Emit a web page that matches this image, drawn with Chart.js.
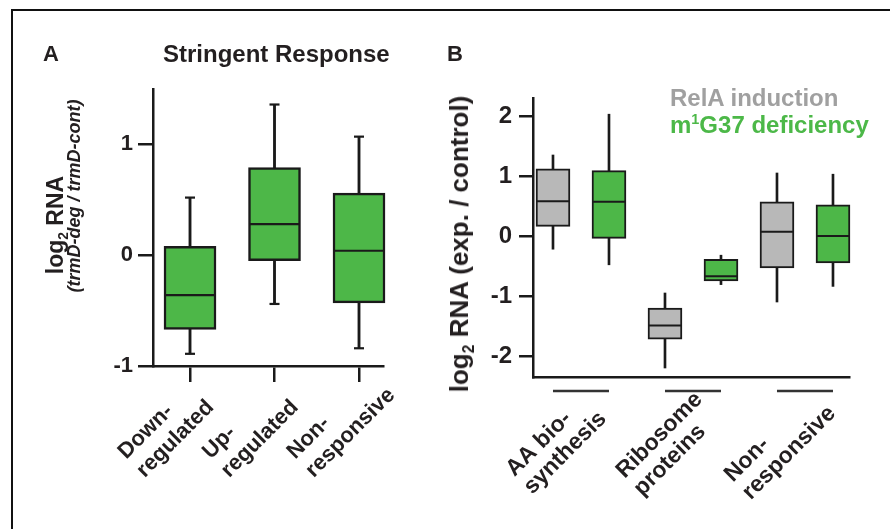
<!DOCTYPE html>
<html lang="en">
<head>
<meta charset="UTF-8" />
<title>Stringent response box plots</title>
<script src="https://cdn.jsdelivr.net/npm/chart.js"></script>
<style>
  body { margin: 0; background: #fff; }
  #page { position: relative; width: 890px; height: 529px; overflow: hidden;
          font-family: "Liberation Sans", Arial, Helvetica, sans-serif; font-weight: bold; color: #231f20; }
  .frame { position: absolute; left: 11px; top: 9px; right: -10px; bottom: -10px;
           border-top: 2px solid #111; border-left: 2px solid #111; }
  canvas { position: absolute; top: 0; }
  .txt { position: absolute; white-space: nowrap; line-height: 1; }
  .rot { position: absolute; white-space: nowrap; line-height: 1; transform: translate(-50%, -50%) rotate(-90deg); }
  sub, sup { font-size: 60%; line-height: 0; }
</style>
</head>
<body>
<div id="page">
  <div class="frame"></div>
  <canvas id="chartA" width="445" height="529" style="left:0"></canvas>
  <canvas id="chartB" width="445" height="529" style="left:445px"></canvas>

  <!-- panel A texts -->
  <div class="txt" style="left:43px;top:43px;font-size:22px">A</div>
  <div class="txt" style="left:163px;top:42px;font-size:24px">Stringent Response</div>
  <div class="rot" style="left:55px;top:225px;font-size:23px">log<sub>2</sub> RNA</div>
  <div class="rot" style="left:74px;top:196px;font-size:18px;font-style:italic">(trmD-deg / trmD-cont)</div>

  <!-- panel B texts -->
  <div class="txt" style="left:447px;top:43px;font-size:22px">B</div>
  <div class="rot" style="left:459px;top:244px;font-size:26px">log<sub>2</sub> RNA (exp. / control)</div>
  <div class="txt" style="left:670px;top:86px;font-size:24px;color:#a0a0a0">RelA induction</div>
  <div class="txt" style="left:670px;top:113px;font-size:24px;color:#4cb848">m<sup>1</sup>G37 deficiency</div>
</div>

<script>
// Panel A - stringent response (trmD-deg / trmD-cont)
const labelsA = [['Down-', 'regulated'], ['Up-', 'regulated'], ['Non-', 'responsive']];
const minA = [-0.89, -0.44, -0.84];
const q1A  = [-0.67, -0.05, -0.43];
const medA = [-0.36,  0.28,  0.04];
const q3A  = [ 0.08,  0.79,  0.56];
const maxA = [ 0.52,  1.36,  1.07];
const ticksA = [-1, 0, 1];

// Panel B - RelA induction vs m1G37 deficiency
const labelsB = [['AA bio-', 'synthesis'], ['Ribosome', 'proteins'], ['Non-', 'responsive']];
const seriesB = ['RelA induction', 'm1G37 deficiency'];
const relaMin = [-0.22, -2.20, -1.10];
const relaQ1  = [ 0.16, -1.72, -0.53];
const relaMed = [ 0.58, -1.49,  0.07];
const relaQ3  = [ 1.12, -1.20,  0.57];
const relaMax = [ 1.35, -0.95,  1.05];
const m1gMin  = [-0.48, -0.81, -0.84];
const m1gQ1   = [-0.04, -0.75, -0.45];
const m1gMed  = [ 0.57, -0.67,  0.00];
const m1gQ3   = [ 1.09, -0.39,  0.52];
const m1gMax  = [ 2.03, -0.32,  1.03];
const ticksB = [-2, -1, 0, 1, 2];

const INK = '#1a1a1a';
const TEXT = '#231f20';
const GREEN = '#4db748';
const GRAY = '#b8b8b8';
const FAMILY = '"Liberation Sans", Arial, Helvetica, sans-serif';

// a box plot = whisker bar + floating box bar + median (and caps) as line points
function boxSets(xs, lo, q1, med, q3, hi, fill, st) {
  const pts = vals => xs.map((x, i) => ({ x: x, y: vals[i] }));
  const sets = [
    { type: 'bar', data: xs.map((x, i) => ({ x: x, y: [lo[i], hi[i]] })), clip: false,
      backgroundColor: INK, borderWidth: 0, barThickness: st.whisker, grouped: false, order: 3 },
    { type: 'bar', data: xs.map((x, i) => ({ x: x, y: [q1[i], q3[i]] })), clip: false,
      backgroundColor: fill, borderColor: INK, borderWidth: st.border, borderSkipped: false,
      barThickness: st.box, grouped: false, order: 2 },
    { type: 'scatter', data: pts(med), clip: false, pointStyle: 'line', pointRadius: st.box / 2 - st.border / 2,
      pointBorderWidth: st.line, pointBorderColor: INK, order: 1 }
  ];
  if (st.cap) {
    sets.push({ type: 'scatter', data: pts(lo).concat(pts(hi)), clip: false, pointStyle: 'line', pointRadius: st.cap,
      pointBorderWidth: st.line, pointBorderColor: INK, order: 1 });
  }
  return sets;
}

// rotated category labels + optional group underlines
const catLabels = {
  id: 'catLabels',
  afterDraw(chart, args, o) {
    const ctx = chart.ctx;
    const xs = chart.scales.x;
    const y0 = chart.chartArea.bottom + o.dy;
    ctx.save();
    if (o.groups) {
      ctx.strokeStyle = '#333';
      ctx.lineWidth = 2.5;
      o.groups.forEach(g => {
        ctx.beginPath();
        ctx.moveTo(xs.getPixelForValue(g[0]), y0);
        ctx.lineTo(xs.getPixelForValue(g[1]), y0);
        ctx.stroke();
      });
    }
    ctx.font = 'bold ' + o.size + 'px ' + FAMILY;
    ctx.fillStyle = TEXT;
    ctx.textAlign = 'left';
    ctx.textBaseline = 'alphabetic';
    o.labels.forEach((lines, i) => {
      const w = Math.max(...lines.map(l => ctx.measureText(l).width));
      const start = o.align === 'center' ? o.along - w / 2 : o.along;
      ctx.save();
      ctx.translate(xs.getPixelForValue(o.at[i]), y0);
      ctx.rotate(-Math.PI / 4);
      lines.forEach((l, j) => ctx.fillText(l, start, o.perp + j * o.lineHeight));
      ctx.restore();
    });
    ctx.restore();
  }
};

function axisOptions(c) {
  return {
    responsive: false,
    animation: false,
    events: [],
    layout: { padding: c.padding },
    plugins: { legend: { display: false }, tooltip: { enabled: false }, catLabels: c.labels },
    scales: {
      x: {
        type: 'linear', min: c.xMin, max: c.xMax, offset: false,
        afterFit: s => { s.height = c.xTick; },
        afterBuildTicks: s => { s.ticks = c.xTicks.map(v => ({ value: v })); },
        grid: { display: c.xTick > 0, offset: false, drawOnChartArea: false, tickLength: c.xTick, color: INK, lineWidth: 2.5 },
        border: { display: true, color: INK, width: 2.5 },
        ticks: { display: false }
      },
      y: {
        type: 'linear', min: c.yMin, max: c.yMax,
        afterFit: s => { s.width = c.yWidth; },
        afterBuildTicks: s => { s.ticks = c.yTicks.map(v => ({ value: v })); },
        grid: { drawOnChartArea: false, tickLength: c.yTick, color: INK, lineWidth: 2.5 },
        border: { color: INK, width: 2.5 },
        ticks: { font: { family: FAMILY, size: c.tickSize, weight: 'bold' }, color: TEXT, padding: c.tickPad }
      }
    }
  };
}

const posA = [1, 2, 3];
new Chart(document.getElementById('chartA'), {
  type: 'bar',
  data: { datasets: boxSets(posA, minA, q1A, medA, q3A, maxA, GREEN, { box: 52, border: 2.5, whisker: 2.2, line: 2.2, cap: 5 }) },
  options: axisOptions({
    padding: { left: 0, top: 89, right: 62, bottom: 147 },
    xMin: 0.562, xMax: 3.284, xTicks: posA, xTick: 16,
    yMin: -1, yMax: 1.5, yTicks: ticksA, yTick: 15, yWidth: 153, tickSize: 22, tickPad: 5,
    labels: { labels: labelsA, at: posA, dy: 16, align: 'start', along: -100, perp: 10, lineHeight: 26, size: 22 }
  }),
  plugins: [catLabels]
});

const posRelA = labelsB.map((_, i) => 2 * i + 1);
const posM1G = labelsB.map((_, i) => 2 * i + 2);
const styleB = { box: 34, border: 2, whisker: 2, line: 2 };
new Chart(document.getElementById('chartB'), {
  type: 'bar',
  data: { datasets: [
    ...boxSets(posRelA, relaMin, relaQ1, relaMed, relaQ3, relaMax, GRAY, styleB),
    ...boxSets(posM1G, m1gMin, m1gQ1, m1gMed, m1gQ3, m1gMax, GREEN, styleB)
  ] },
  options: axisOptions({
    padding: { left: 0, top: 98, right: 41, bottom: 152 },
    xMin: 0.643, xMax: 6.286, xTicks: [], xTick: 0,
    yMin: -2.35, yMax: 2.3, yTicks: ticksB, yTick: 14, yWidth: 88, tickSize: 24, tickPad: 7,
    labels: { labels: labelsB, at: posRelA.map(p => p + 0.5), dy: 14, align: 'center', along: -55, perp: 14,
              lineHeight: 25, size: 23, groups: posRelA.map((p, i) => [p, posM1G[i]]) }
  }),
  plugins: [catLabels]
});
</script>
</body>
</html>
